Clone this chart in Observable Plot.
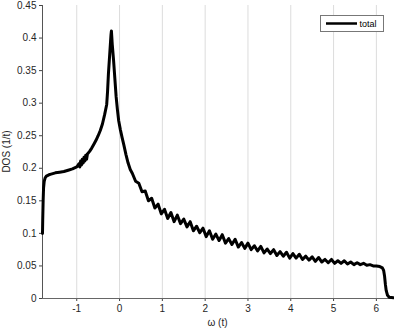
<!DOCTYPE html>
<html><head><meta charset="utf-8">
<script src="https://cdn.jsdelivr.net/npm/d3@7"></script>
<script src="https://cdn.jsdelivr.net/npm/@observablehq/plot@0.6"></script>
<style>body{margin:0;background:#fff} svg{display:block}</style>
</head><body><div id="chart"></div>
<script>
const omega = [
  -1.8, -1.795, -1.785, -1.775, -1.76, -1.74, -1.71, -1.65, -1.6, -1.5, -1.4, -1.3, -1.2, -1.1, -1.0,
  -0.95, -0.93, -0.91, -0.89, -0.87, -0.85, -0.83, -0.81, -0.79, -0.77, -0.75,
  -0.7, -0.65, -0.6, -0.55, -0.5, -0.45, -0.4, -0.35, -0.3, -0.28, -0.26, -0.23, -0.21, -0.2, -0.19,
  -0.17, -0.14, -0.11, -0.08, -0.05, -0.02, 0.02, 0.06, 0.1, 0.15, 0.2, 0.25,
  0.300, 0.375, 0.450, 0.525, 0.600, 0.675, 0.750, 0.825, 0.900, 0.975,
  1.050, 1.125, 1.200, 1.275, 1.350, 1.425, 1.500, 1.575, 1.650, 1.725, 1.800, 1.875, 1.950,
  2.025, 2.100, 2.175, 2.250, 2.325, 2.400, 2.475, 2.550, 2.625, 2.700, 2.775, 2.850, 2.925,
  3.000, 3.075, 3.150, 3.225, 3.300, 3.375, 3.450, 3.525, 3.600, 3.675, 3.750, 3.825, 3.900, 3.975,
  4.050, 4.125, 4.200, 4.275, 4.350, 4.425, 4.500, 4.575, 4.650, 4.725, 4.800, 4.875, 4.950,
  5.025, 5.100, 5.175, 5.250, 5.325, 5.400, 5.475, 5.550, 5.625, 5.700, 5.775, 5.850, 5.925,
  6.000, 6.080, 6.140, 6.170, 6.190, 6.210, 6.230, 6.260, 6.300, 6.400
];
const dos = [
  0.100, 0.120, 0.150, 0.170, 0.180, 0.185, 0.188, 0.190, 0.191, 0.193, 0.194, 0.195, 0.197, 0.199, 0.202,
  0.207, 0.202, 0.211, 0.205, 0.214, 0.208, 0.217, 0.211, 0.220, 0.214, 0.222,
  0.226, 0.231, 0.237, 0.243, 0.250, 0.258, 0.268, 0.282, 0.298, 0.318, 0.345, 0.375, 0.395, 0.405, 0.411,
  0.390, 0.366, 0.338, 0.310, 0.290, 0.273, 0.259, 0.247, 0.236, 0.221, 0.208, 0.198,
  0.192, 0.180, 0.177, 0.164, 0.165, 0.150, 0.154, 0.139, 0.145, 0.130,
  0.137, 0.123, 0.132, 0.118, 0.128, 0.115, 0.122, 0.110, 0.118, 0.104, 0.111, 0.101, 0.108,
  0.095, 0.104, 0.091, 0.099, 0.089, 0.098, 0.085, 0.092, 0.083, 0.091, 0.079, 0.086, 0.077,
  0.085, 0.075, 0.081, 0.073, 0.080, 0.070, 0.076, 0.069, 0.075, 0.066, 0.072, 0.065, 0.071, 0.062,
  0.069, 0.062, 0.068, 0.060, 0.065, 0.059, 0.064, 0.057, 0.063, 0.056, 0.060, 0.055, 0.060,
  0.054, 0.058, 0.054, 0.058, 0.053, 0.056, 0.052, 0.055, 0.052, 0.054, 0.051, 0.052, 0.050,
  0.050, 0.049, 0.047, 0.043, 0.035, 0.022, 0.012, 0.005, 0.002, 0.001
];
const xTicks = [-1, 0, 1, 2, 3, 4, 5, 6];
const yTicks = [0, 0.05, 0.1, 0.15, 0.2, 0.25, 0.3, 0.35, 0.4, 0.45];
const seriesName = "total";
const xLabel = "ω (t)";
const yLabel = "DOS (1/t)";

const data = omega.map((x, i) => ({x, y: dos[i]}));
const W = 394, H = 330, mL = 42, mR = 1, mT = 5, mB = 32;
const font = "'Liberation Sans', Arial, Helvetica, sans-serif";

const svg = Plot.plot({
  width: W, height: H,
  marginLeft: mL, marginRight: mR, marginTop: mT, marginBottom: mB,
  style: {fontFamily: font, fontSize: "10px", background: "#fff", color: "#262626"},
  x: {domain: [-1.8, 6.4]},
  y: {domain: [0, 0.45]},
  marks: [
    Plot.gridX(xTicks, {stroke: "#dcdcdc", strokeOpacity: 1}),
    Plot.axisX(xTicks, {tickSize: 3, tickPadding: 3, label: null, tickFormat: d => String(d), stroke: "#444"}),
    Plot.axisY(yTicks, {tickSize: 3, tickPadding: 3, label: null, tickFormat: d => String(+d.toFixed(2)), stroke: "#444"}),
    Plot.ruleY([0], {stroke: "#666", strokeWidth: 1.2}),
    Plot.ruleX([-1.8], {stroke: "#555"}),
    Plot.line(data, {x: "x", y: "y", stroke: "black", strokeWidth: 3, strokeLinejoin: "round"})
  ]
});

const s = d3.select(svg);
s.append("text").attr("x", (mL + W - mR) / 2).attr("y", 326)
  .attr("text-anchor", "middle").attr("font-family", font).attr("font-size", 10).attr("fill", "#262626")
  .text(xLabel);
s.append("text").attr("transform", `translate(10,${(mT + H - mB) / 2}) rotate(-90)`)
  .attr("text-anchor", "middle").attr("font-family", font).attr("font-size", 10).attr("fill", "#262626")
  .text(yLabel);
const lg = s.append("g");
lg.append("rect").attr("x", 320.5).attr("y", 15.5).attr("width", 63).attr("height", 16)
  .attr("fill", "#fff").attr("stroke", "#777");
lg.append("line").attr("x1", 326).attr("x2", 357).attr("y1", 23.5).attr("y2", 23.5)
  .attr("stroke", "black").attr("stroke-width", 2.5);
lg.append("text").attr("x", 359.5).attr("y", 23.5).attr("dy", "0.35em").attr("text-anchor", "start")
  .attr("font-family", font).attr("font-size", 9).attr("fill", "#000").text(seriesName);

document.getElementById("chart").appendChild(svg);
</script>
</body></html>
